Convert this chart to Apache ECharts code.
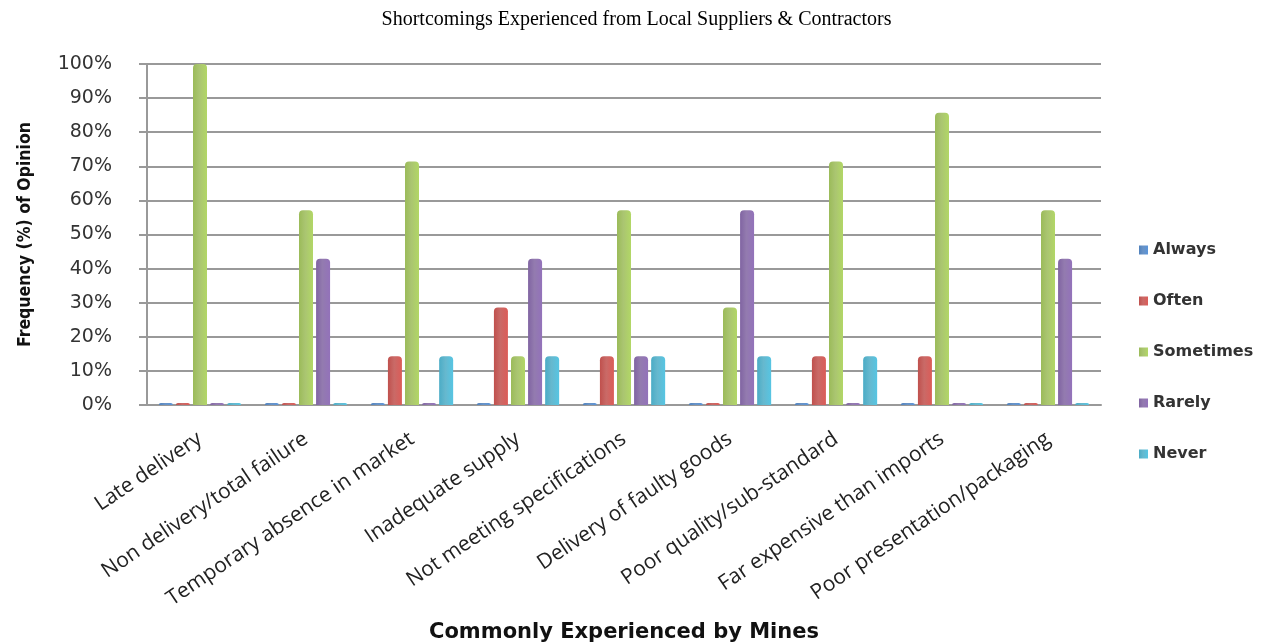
<!DOCTYPE html>
<html>
<head>
<meta charset="utf-8">
<script src="https://cdn.jsdelivr.net/npm/echarts@6/dist/echarts.min.js"></script>
<style>
html,body{margin:0;padding:0;background:#fff;}
#chart{width:1273px;height:642px;}
</style>
</head>
<body>
<div id="chart"></div>
<script>
const categories = ["Late delivery","Non delivery/total failure","Temporary absence in market","Inadequate supply","Not meeting specifications","Delivery of faulty goods","Poor quality/sub-standard","Far expensive than imports","Poor presentation/packaging"];
const always    = [0, 0, 0, 0, 0, 0, 0, 0, 0];
const often     = [0, 0, 14.3, 28.6, 14.3, 0, 14.3, 14.3, 0];
const sometimes = [100, 57.1, 71.4, 14.3, 57.1, 28.6, 71.4, 85.7, 57.1];
const rarely    = [0, 42.9, 0, 42.9, 14.3, 57.1, 0, 0, 42.9];
const never     = [0, 0, 14.3, 14.3, 14.3, 14.3, 14.3, 0, 0];
const seriesNames = ["Always","Often","Sometimes","Rarely","Never"];
const yTicks = [0,10,20,30,40,50,60,70,80,90,100];

const colors = ["#4F81BD","#C0504D","#9BBB59","#8064A2","#4BACC6"];
const dataSets = [always, often, sometimes, rarely, never];

const chart = echarts.init(document.getElementById('chart'));
chart.setOption({
  animation:false,
  color: colors,
  title:{
    text:"Shortcomings Experienced from Local Suppliers & Contractors",
    left:'center', top:5,
    textStyle:{fontFamily:"Liberation Serif", fontWeight:'normal', fontSize:20, color:'#000'}
  },
  legend:{
    orient:'vertical', left:1134, top:237, itemGap:35,
    itemWidth:9, itemHeight:9,
    icon:'rect',
    textStyle:{fontFamily:"DejaVu Sans", fontWeight:'bold', fontSize:16, color:'#333'},
    data: seriesNames
  },
  grid:{left:147, right:172, top:64, bottom:237, outerBoundsMode:'none', containLabel:false},
  xAxis:{
    type:'category', data:categories,
    name:"Commonly Experienced by Mines", nameLocation:'middle', nameGap:217,
    nameTextStyle:{fontFamily:"DejaVu Sans", fontWeight:'bold', fontSize:21, color:'#111', verticalAlign:'top'},
    axisLine:{lineStyle:{color:'#999', width:2}},
    axisTick:{show:false},
    axisLabel:{rotate:34, fontFamily:"Open Sans", fontSize:21, color:'#222', margin:32, interval:0}
  },
  yAxis:{
    type:'value', min:0, max:100, interval:10,
    name:"Frequency (%) of Opinion", nameLocation:'middle', nameGap:113,
    nameTextStyle:{fontFamily:"DejaVu Sans Condensed, Roboto, sans-serif", fontWeight:'bold', fontSize:17.5, color:'#111'},
    axisLine:{show:true, lineStyle:{color:'#999', width:2}},
    axisTick:{show:true, length:8, lineStyle:{color:'#999', width:2}},
    splitLine:{lineStyle:{color:'#999', width:2}},
    axisLabel:{fontFamily:"DejaVu Sans", fontSize:19, color:'#333', margin:35,
      formatter: v => yTicks.includes(v) ? v + '%' : ''}
  },
  series: seriesNames.map((n,i)=>({
    name:n, type:'bar', data:dataSets[i],
    barWidth:14, barGap:'22%', barCategoryGap:'23%', barMinHeight:2,
    itemStyle:{color: new echarts.graphic.LinearGradient(0,0,1,0,[
      {offset:0,color:colors[i]},{offset:0.45,color:echarts.color.lift(colors[i],0.15)},{offset:1,color:echarts.color.lift(colors[i],-0.15)}]),
      borderRadius:[4,4,0,0]}
  }))
});
</script>
</body>
</html>
